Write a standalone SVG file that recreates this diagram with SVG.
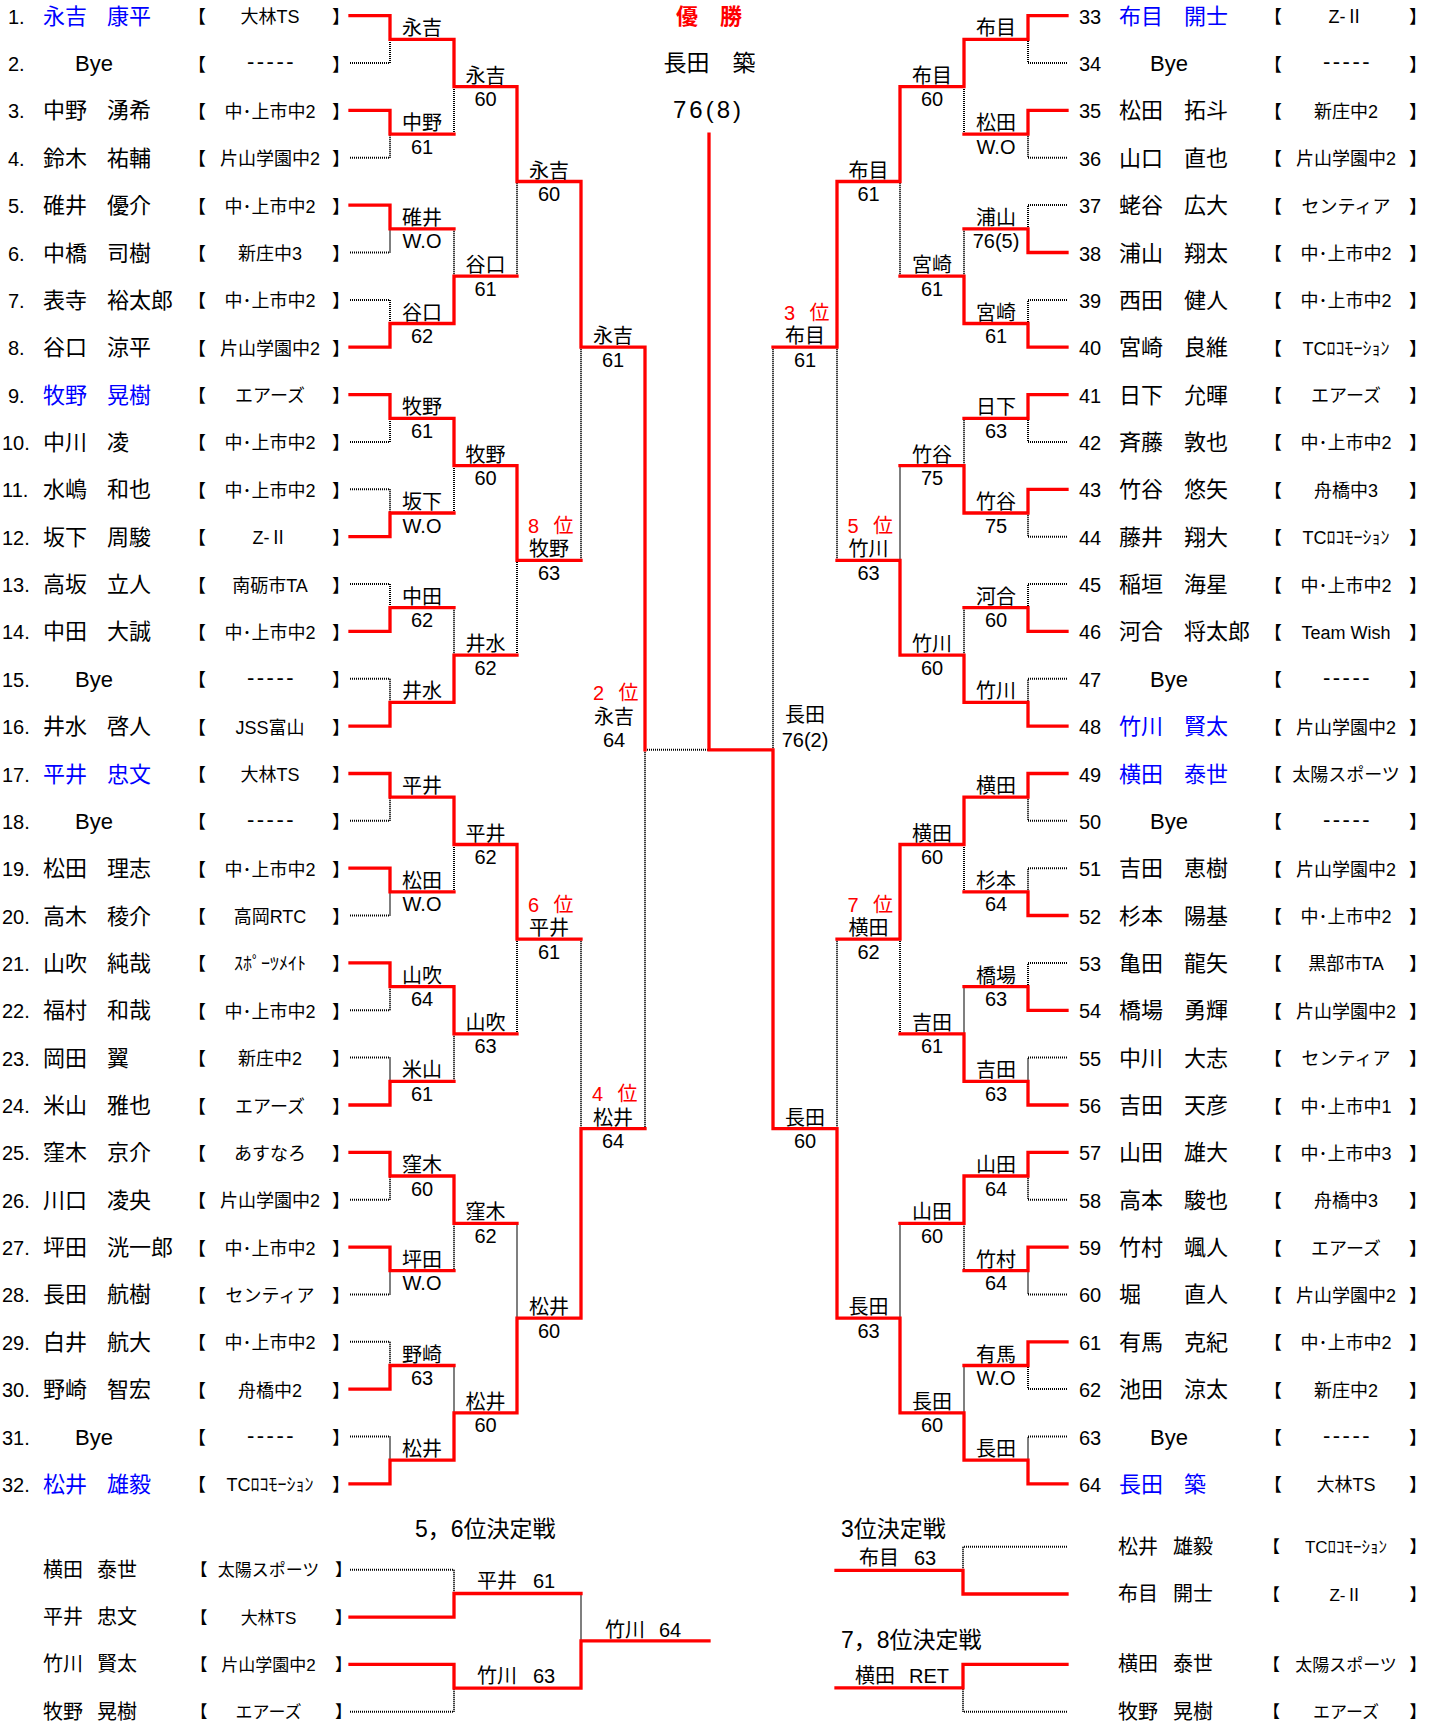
<svg xmlns="http://www.w3.org/2000/svg" xmlns:xlink="http://www.w3.org/1999/xlink" width="1436" height="1721" viewBox="0 0 1436 1721">
<style>
text{font-family:"Liberation Sans","Noto Sans CJK JP",sans-serif;fill:#000}
.n{font-size:20px}
.m{font-size:22px}
.b{fill:#0000ff}
.k{font-size:18px}
.a{font-size:18px;text-anchor:middle}
.dash{font-size:22px;text-anchor:middle;letter-spacing:2.5px}
.l{font-size:20px;text-anchor:middle}
.red{fill:#ff0000}
.r{stroke:#ff0000;stroke-width:3.3;fill:none;stroke-linecap:square}
.d{stroke:#000;stroke-width:2;fill:none;stroke-dasharray:1 1}
.s{font-size:20px}
.sa{font-size:17px;text-anchor:middle}
.sk{font-size:17px}
.h{font-size:23px}
</style>
<defs>
<text id="bkL" class="k" y="7.5"><tspan x="188">【</tspan><tspan x="332">】</tspan></text>
<text id="bkR" class="k" y="7.5"><tspan x="1264">【</tspan><tspan x="1409">】</tspan></text>
<text id="bkBL" class="sk" y="6.5"><tspan x="190.5">【</tspan><tspan x="335">】</tspan></text>
<text id="bkBR" class="sk" y="6.5"><tspan x="1263">【</tspan><tspan x="1409.5">】</tspan></text>
</defs>
<rect width="1436" height="1721" fill="#fff"/>

<g id="connectors">
<path class="d" d="M350 63.1H390V39.4M350 157.8H390V134.1M350 252.5H390V228.8M350 299.9H390V323.5M350 441.9H390V418.3M350 489.3H390V513M350 584H390V607.7M350 678.7H390V702.4M350 820.8H390V797.1M350 915.5H390V891.9M350 1010.3H390V986.6M350 1057.6H390V1081.3M350 1199.7H390V1176M350 1294.4H390V1270.7M350 1341.8H390V1365.5M350 1436.5H390V1460.2
M454 134.1V86.7M454 228.8V276.2M454 513V465.6M454 607.7V655.1M454 891.9V844.5M454 1081.3V1033.9M454 1270.7V1223.4M454 1365.5V1412.8
M517 276.2V181.5M517 655.1V560.3M517 1033.9V939.2M517 1223.4V1318.1
M581 560.3V347.2M581 939.2V1128.7M645 1128.7V749.8M645 749.8H709"/>
<path class="d" d="M1067 63.1H1028V39.4M1067 157.8H1028V134.1M1067 205.1H1028V228.8M1067 299.9H1028V323.5M1067 441.9H1028V418.3M1067 536.7H1028V513M1067 584H1028V607.7M1067 678.7H1028V702.4M1067 820.8H1028V797.1M1067 868.2H1028V891.9M1067 962.9H1028V986.6M1067 1057.6H1028V1081.3M1067 1199.7H1028V1176M1067 1294.4H1028V1270.7M1067 1389.1H1028V1365.5M1067 1436.5H1028V1460.2
M964 134.1V86.7M964 228.8V276.2M964 418.3V465.6M964 607.7V655.1M964 891.9V844.5M964 986.6V1033.9M964 1270.7V1223.4M964 1365.5V1412.8
M900 276.2V181.5M900 465.6V560.3M900 1033.9V939.2M900 1223.4V1318.1
M837 560.3V347.2M837 939.2V1128.7M773 347.2V749.8"/>
<path class="r" d="M350 15.7H390V39.4H454V86.7H517V181.5H581V347.2H645V749.8
M350 110.4H390V134.1H454
M350 205.1H390V228.8H454
M350 347.2H390V323.5H454V276.2H517
M350 394.6H390V418.3H454V465.6H517V560.3H581
M350 536.7H390V513H454
M350 631.4H390V607.7H454
M350 726.1H390V702.4H454V655.1H517
M350 773.5H390V797.1H454V844.5H517V939.2H581
M350 868.2H390V891.9H454
M350 962.9H390V986.6H454V1033.9H517
M350 1105H390V1081.3H454
M350 1152.3H390V1176H454V1223.4H517
M350 1247.1H390V1270.7H454
M350 1389.1H390V1365.5H454
M350 1483.9H390V1460.2H454V1412.8H517V1318.1H581V1128.7H645"/>
<path class="r" d="M1067 15.7H1028V39.4H964V86.7H900V181.5H837V347.2H773
M1067 110.4H1028V134.1H964
M1067 252.5H1028V228.8H964
M1067 347.2H1028V323.5H964V276.2H900
M1067 394.6H1028V418.3H964
M1067 489.3H1028V513H964V465.6H900
M1067 631.4H1028V607.7H964
M1067 726.1H1028V702.4H964V655.1H900V560.3H837
M1067 773.5H1028V797.1H964V844.5H900V939.2H837
M1067 915.5H1028V891.9H964
M1067 1010.3H1028V986.6H964
M1067 1105H1028V1081.3H964V1033.9H900
M1067 1152.3H1028V1176H964V1223.4H900
M1067 1247.1H1028V1270.7H964
M1067 1341.8H1028V1365.5H964
M1067 1483.9H1028V1460.2H964V1412.8H900V1318.1H837V1128.7H773V749.8H709
M709 134.1V749.8"/>
<path class="d" d="M350 1569.8H454V1593.5M350 1711.8H454V1688.1M581 1593.5V1640.8M1067 1546.7H963V1570.3M1067 1711.7H963V1687.8"/>
<path class="r" d="M350 1617.1H454V1593.5H581M350 1664.4H454V1688.1H581V1640.8H709M1067 1594H963V1570.3H836M1067 1664.3H963V1687.8H836"/>
</g>

<g id="champion">
<text class="red" x="709" y="24" style="font-size:22px;font-weight:bold;text-anchor:middle">優　勝</text>
<text x="709.5" y="71" style="font-size:23px;text-anchor:middle">長田　築</text>
<text x="673" y="118" style="font-size:24px;letter-spacing:3px">76(8)</text>
</g>

<g id="left-players">
<g id="p1" transform="translate(0,15.7)"><text y="8"><tspan class="n" x="8">1.</tspan><tspan class="m b" x="43">永吉</tspan><tspan class="m b" x="107">康平</tspan></text><use xlink:href="#bkL"/><text class="a" x="270" y="7.5">大林TS</text></g>
<g id="p2" transform="translate(0,63.1)"><text y="8"><tspan class="n" x="8">2.</tspan><tspan class="m" x="75">Bye</tspan></text><use xlink:href="#bkL"/><text class="dash" x="271.5" y="6">-----</text></g>
<g id="p3" transform="translate(0,110.4)"><text y="8"><tspan class="n" x="8">3.</tspan><tspan class="m" x="43">中野</tspan><tspan class="m" x="107">湧希</tspan></text><use xlink:href="#bkL"/><text class="a" x="270" y="7.5">中･上市中2</text></g>
<g id="p4" transform="translate(0,157.8)"><text y="8"><tspan class="n" x="8">4.</tspan><tspan class="m" x="43">鈴木</tspan><tspan class="m" x="107">祐輔</tspan></text><use xlink:href="#bkL"/><text class="a" x="270" y="7.5">片山学園中2</text></g>
<g id="p5" transform="translate(0,205.1)"><text y="8"><tspan class="n" x="8">5.</tspan><tspan class="m" x="43">碓井</tspan><tspan class="m" x="107">優介</tspan></text><use xlink:href="#bkL"/><text class="a" x="270" y="7.5">中･上市中2</text></g>
<g id="p6" transform="translate(0,252.5)"><text y="8"><tspan class="n" x="8">6.</tspan><tspan class="m" x="43">中橋</tspan><tspan class="m" x="107">司樹</tspan></text><use xlink:href="#bkL"/><text class="a" x="270" y="7.5">新庄中3</text></g>
<g id="p7" transform="translate(0,299.9)"><text y="8"><tspan class="n" x="8">7.</tspan><tspan class="m" x="43">表寺</tspan><tspan class="m" x="107">裕太郎</tspan></text><use xlink:href="#bkL"/><text class="a" x="270" y="7.5">中･上市中2</text></g>
<g id="p8" transform="translate(0,347.2)"><text y="8"><tspan class="n" x="8">8.</tspan><tspan class="m" x="43">谷口</tspan><tspan class="m" x="107">涼平</tspan></text><use xlink:href="#bkL"/><text class="a" x="270" y="7.5">片山学園中2</text></g>
<g id="p9" transform="translate(0,394.6)"><text y="8"><tspan class="n" x="8">9.</tspan><tspan class="m b" x="43">牧野</tspan><tspan class="m b" x="107">晃樹</tspan></text><use xlink:href="#bkL"/><text class="a" x="270" y="7.5">エアーズ</text></g>
<g id="p10" transform="translate(0,441.9)"><text y="8"><tspan class="n" x="2">10.</tspan><tspan class="m" x="43">中川</tspan><tspan class="m" x="107">凌</tspan></text><use xlink:href="#bkL"/><text class="a" x="270" y="7.5">中･上市中2</text></g>
<g id="p11" transform="translate(0,489.3)"><text y="8"><tspan class="n" x="2">11.</tspan><tspan class="m" x="43">水嶋</tspan><tspan class="m" x="107">和也</tspan></text><use xlink:href="#bkL"/><text class="a" x="270" y="7.5">中･上市中2</text></g>
<g id="p12" transform="translate(0,536.7)"><text y="8"><tspan class="n" x="2">12.</tspan><tspan class="m" x="43">坂下</tspan><tspan class="m" x="107">周駿</tspan></text><use xlink:href="#bkL"/><text class="a" x="270" y="7.5">Z-Ⅱ</text></g>
<g id="p13" transform="translate(0,584)"><text y="8"><tspan class="n" x="2">13.</tspan><tspan class="m" x="43">高坂</tspan><tspan class="m" x="107">立人</tspan></text><use xlink:href="#bkL"/><text class="a" x="270" y="7.5">南砺市TA</text></g>
<g id="p14" transform="translate(0,631.4)"><text y="8"><tspan class="n" x="2">14.</tspan><tspan class="m" x="43">中田</tspan><tspan class="m" x="107">大誠</tspan></text><use xlink:href="#bkL"/><text class="a" x="270" y="7.5">中･上市中2</text></g>
<g id="p15" transform="translate(0,678.7)"><text y="8"><tspan class="n" x="2">15.</tspan><tspan class="m" x="75">Bye</tspan></text><use xlink:href="#bkL"/><text class="dash" x="271.5" y="6">-----</text></g>
<g id="p16" transform="translate(0,726.1)"><text y="8"><tspan class="n" x="2">16.</tspan><tspan class="m" x="43">井水</tspan><tspan class="m" x="107">啓人</tspan></text><use xlink:href="#bkL"/><text class="a" x="270" y="7.5">JSS富山</text></g>
<g id="p17" transform="translate(0,773.5)"><text y="8"><tspan class="n" x="2">17.</tspan><tspan class="m b" x="43">平井</tspan><tspan class="m b" x="107">忠文</tspan></text><use xlink:href="#bkL"/><text class="a" x="270" y="7.5">大林TS</text></g>
<g id="p18" transform="translate(0,820.8)"><text y="8"><tspan class="n" x="2">18.</tspan><tspan class="m" x="75">Bye</tspan></text><use xlink:href="#bkL"/><text class="dash" x="271.5" y="6">-----</text></g>
<g id="p19" transform="translate(0,868.2)"><text y="8"><tspan class="n" x="2">19.</tspan><tspan class="m" x="43">松田</tspan><tspan class="m" x="107">理志</tspan></text><use xlink:href="#bkL"/><text class="a" x="270" y="7.5">中･上市中2</text></g>
<g id="p20" transform="translate(0,915.5)"><text y="8"><tspan class="n" x="2">20.</tspan><tspan class="m" x="43">高木</tspan><tspan class="m" x="107">稜介</tspan></text><use xlink:href="#bkL"/><text class="a" x="270" y="7.5">高岡RTC</text></g>
<g id="p21" transform="translate(0,962.9)"><text y="8"><tspan class="n" x="2">21.</tspan><tspan class="m" x="43">山吹</tspan><tspan class="m" x="107">純哉</tspan></text><use xlink:href="#bkL"/><text class="a" x="270" y="7.5">ｽﾎﾟｰﾂﾒｲﾄ</text></g>
<g id="p22" transform="translate(0,1010.3)"><text y="8"><tspan class="n" x="2">22.</tspan><tspan class="m" x="43">福村</tspan><tspan class="m" x="107">和哉</tspan></text><use xlink:href="#bkL"/><text class="a" x="270" y="7.5">中･上市中2</text></g>
<g id="p23" transform="translate(0,1057.6)"><text y="8"><tspan class="n" x="2">23.</tspan><tspan class="m" x="43">岡田</tspan><tspan class="m" x="107">翼</tspan></text><use xlink:href="#bkL"/><text class="a" x="270" y="7.5">新庄中2</text></g>
<g id="p24" transform="translate(0,1105)"><text y="8"><tspan class="n" x="2">24.</tspan><tspan class="m" x="43">米山</tspan><tspan class="m" x="107">雅也</tspan></text><use xlink:href="#bkL"/><text class="a" x="270" y="7.5">エアーズ</text></g>
<g id="p25" transform="translate(0,1152.3)"><text y="8"><tspan class="n" x="2">25.</tspan><tspan class="m" x="43">窪木</tspan><tspan class="m" x="107">京介</tspan></text><use xlink:href="#bkL"/><text class="a" x="270" y="7.5">あすなろ</text></g>
<g id="p26" transform="translate(0,1199.7)"><text y="8"><tspan class="n" x="2">26.</tspan><tspan class="m" x="43">川口</tspan><tspan class="m" x="107">凌央</tspan></text><use xlink:href="#bkL"/><text class="a" x="270" y="7.5">片山学園中2</text></g>
<g id="p27" transform="translate(0,1247.1)"><text y="8"><tspan class="n" x="2">27.</tspan><tspan class="m" x="43">坪田</tspan><tspan class="m" x="107">洸一郎</tspan></text><use xlink:href="#bkL"/><text class="a" x="270" y="7.5">中･上市中2</text></g>
<g id="p28" transform="translate(0,1294.4)"><text y="8"><tspan class="n" x="2">28.</tspan><tspan class="m" x="43">長田</tspan><tspan class="m" x="107">航樹</tspan></text><use xlink:href="#bkL"/><text class="a" x="270" y="7.5">センティア</text></g>
<g id="p29" transform="translate(0,1341.8)"><text y="8"><tspan class="n" x="2">29.</tspan><tspan class="m" x="43">白井</tspan><tspan class="m" x="107">航大</tspan></text><use xlink:href="#bkL"/><text class="a" x="270" y="7.5">中･上市中2</text></g>
<g id="p30" transform="translate(0,1389.1)"><text y="8"><tspan class="n" x="2">30.</tspan><tspan class="m" x="43">野崎</tspan><tspan class="m" x="107">智宏</tspan></text><use xlink:href="#bkL"/><text class="a" x="270" y="7.5">舟橋中2</text></g>
<g id="p31" transform="translate(0,1436.5)"><text y="8"><tspan class="n" x="2">31.</tspan><tspan class="m" x="75">Bye</tspan></text><use xlink:href="#bkL"/><text class="dash" x="271.5" y="6">-----</text></g>
<g id="p32" transform="translate(0,1483.9)"><text y="8"><tspan class="n" x="2">32.</tspan><tspan class="m b" x="43">松井</tspan><tspan class="m b" x="107">雄毅</tspan></text><use xlink:href="#bkL"/><text class="a" x="270" y="7.5">TCﾛｺﾓｰｼｮﾝ</text></g>
</g>

<g id="right-players">
<g id="p33" transform="translate(0,15.7)"><text y="8"><tspan class="n" x="1079">33</tspan><tspan class="m b" x="1119">布目</tspan><tspan class="m b" x="1184">開士</tspan></text><use xlink:href="#bkR"/><text class="a" x="1346" y="7.5">Z-Ⅱ</text></g>
<g id="p34" transform="translate(0,63.1)"><text y="8"><tspan class="n" x="1079">34</tspan><tspan class="m" x="1150">Bye</tspan></text><use xlink:href="#bkR"/><text class="dash" x="1347.5" y="6">-----</text></g>
<g id="p35" transform="translate(0,110.4)"><text y="8"><tspan class="n" x="1079">35</tspan><tspan class="m" x="1119">松田</tspan><tspan class="m" x="1184">拓斗</tspan></text><use xlink:href="#bkR"/><text class="a" x="1346" y="7.5">新庄中2</text></g>
<g id="p36" transform="translate(0,157.8)"><text y="8"><tspan class="n" x="1079">36</tspan><tspan class="m" x="1119">山口</tspan><tspan class="m" x="1184">直也</tspan></text><use xlink:href="#bkR"/><text class="a" x="1346" y="7.5">片山学園中2</text></g>
<g id="p37" transform="translate(0,205.1)"><text y="8"><tspan class="n" x="1079">37</tspan><tspan class="m" x="1119">蛯谷</tspan><tspan class="m" x="1184">広大</tspan></text><use xlink:href="#bkR"/><text class="a" x="1346" y="7.5">センティア</text></g>
<g id="p38" transform="translate(0,252.5)"><text y="8"><tspan class="n" x="1079">38</tspan><tspan class="m" x="1119">浦山</tspan><tspan class="m" x="1184">翔太</tspan></text><use xlink:href="#bkR"/><text class="a" x="1346" y="7.5">中･上市中2</text></g>
<g id="p39" transform="translate(0,299.9)"><text y="8"><tspan class="n" x="1079">39</tspan><tspan class="m" x="1119">西田</tspan><tspan class="m" x="1184">健人</tspan></text><use xlink:href="#bkR"/><text class="a" x="1346" y="7.5">中･上市中2</text></g>
<g id="p40" transform="translate(0,347.2)"><text y="8"><tspan class="n" x="1079">40</tspan><tspan class="m" x="1119">宮崎</tspan><tspan class="m" x="1184">良維</tspan></text><use xlink:href="#bkR"/><text class="a" x="1346" y="7.5">TCﾛｺﾓｰｼｮﾝ</text></g>
<g id="p41" transform="translate(0,394.6)"><text y="8"><tspan class="n" x="1079">41</tspan><tspan class="m" x="1119">日下</tspan><tspan class="m" x="1184">允暉</tspan></text><use xlink:href="#bkR"/><text class="a" x="1346" y="7.5">エアーズ</text></g>
<g id="p42" transform="translate(0,441.9)"><text y="8"><tspan class="n" x="1079">42</tspan><tspan class="m" x="1119">斉藤</tspan><tspan class="m" x="1184">敦也</tspan></text><use xlink:href="#bkR"/><text class="a" x="1346" y="7.5">中･上市中2</text></g>
<g id="p43" transform="translate(0,489.3)"><text y="8"><tspan class="n" x="1079">43</tspan><tspan class="m" x="1119">竹谷</tspan><tspan class="m" x="1184">悠矢</tspan></text><use xlink:href="#bkR"/><text class="a" x="1346" y="7.5">舟橋中3</text></g>
<g id="p44" transform="translate(0,536.7)"><text y="8"><tspan class="n" x="1079">44</tspan><tspan class="m" x="1119">藤井</tspan><tspan class="m" x="1184">翔大</tspan></text><use xlink:href="#bkR"/><text class="a" x="1346" y="7.5">TCﾛｺﾓｰｼｮﾝ</text></g>
<g id="p45" transform="translate(0,584)"><text y="8"><tspan class="n" x="1079">45</tspan><tspan class="m" x="1119">稲垣</tspan><tspan class="m" x="1184">海星</tspan></text><use xlink:href="#bkR"/><text class="a" x="1346" y="7.5">中･上市中2</text></g>
<g id="p46" transform="translate(0,631.4)"><text y="8"><tspan class="n" x="1079">46</tspan><tspan class="m" x="1119">河合</tspan><tspan class="m" x="1184">将太郎</tspan></text><use xlink:href="#bkR"/><text class="a" x="1346" y="7.5">Team Wish</text></g>
<g id="p47" transform="translate(0,678.7)"><text y="8"><tspan class="n" x="1079">47</tspan><tspan class="m" x="1150">Bye</tspan></text><use xlink:href="#bkR"/><text class="dash" x="1347.5" y="6">-----</text></g>
<g id="p48" transform="translate(0,726.1)"><text y="8"><tspan class="n" x="1079">48</tspan><tspan class="m b" x="1119">竹川</tspan><tspan class="m b" x="1184">賢太</tspan></text><use xlink:href="#bkR"/><text class="a" x="1346" y="7.5">片山学園中2</text></g>
<g id="p49" transform="translate(0,773.5)"><text y="8"><tspan class="n" x="1079">49</tspan><tspan class="m b" x="1119">横田</tspan><tspan class="m b" x="1184">泰世</tspan></text><use xlink:href="#bkR"/><text class="a" x="1346" y="7.5">太陽スポーツ</text></g>
<g id="p50" transform="translate(0,820.8)"><text y="8"><tspan class="n" x="1079">50</tspan><tspan class="m" x="1150">Bye</tspan></text><use xlink:href="#bkR"/><text class="dash" x="1347.5" y="6">-----</text></g>
<g id="p51" transform="translate(0,868.2)"><text y="8"><tspan class="n" x="1079">51</tspan><tspan class="m" x="1119">吉田</tspan><tspan class="m" x="1184">恵樹</tspan></text><use xlink:href="#bkR"/><text class="a" x="1346" y="7.5">片山学園中2</text></g>
<g id="p52" transform="translate(0,915.5)"><text y="8"><tspan class="n" x="1079">52</tspan><tspan class="m" x="1119">杉本</tspan><tspan class="m" x="1184">陽基</tspan></text><use xlink:href="#bkR"/><text class="a" x="1346" y="7.5">中･上市中2</text></g>
<g id="p53" transform="translate(0,962.9)"><text y="8"><tspan class="n" x="1079">53</tspan><tspan class="m" x="1119">亀田</tspan><tspan class="m" x="1184">龍矢</tspan></text><use xlink:href="#bkR"/><text class="a" x="1346" y="7.5">黒部市TA</text></g>
<g id="p54" transform="translate(0,1010.3)"><text y="8"><tspan class="n" x="1079">54</tspan><tspan class="m" x="1119">橋場</tspan><tspan class="m" x="1184">勇輝</tspan></text><use xlink:href="#bkR"/><text class="a" x="1346" y="7.5">片山学園中2</text></g>
<g id="p55" transform="translate(0,1057.6)"><text y="8"><tspan class="n" x="1079">55</tspan><tspan class="m" x="1119">中川</tspan><tspan class="m" x="1184">大志</tspan></text><use xlink:href="#bkR"/><text class="a" x="1346" y="7.5">センティア</text></g>
<g id="p56" transform="translate(0,1105)"><text y="8"><tspan class="n" x="1079">56</tspan><tspan class="m" x="1119">吉田</tspan><tspan class="m" x="1184">天彦</tspan></text><use xlink:href="#bkR"/><text class="a" x="1346" y="7.5">中･上市中1</text></g>
<g id="p57" transform="translate(0,1152.3)"><text y="8"><tspan class="n" x="1079">57</tspan><tspan class="m" x="1119">山田</tspan><tspan class="m" x="1184">雄大</tspan></text><use xlink:href="#bkR"/><text class="a" x="1346" y="7.5">中･上市中3</text></g>
<g id="p58" transform="translate(0,1199.7)"><text y="8"><tspan class="n" x="1079">58</tspan><tspan class="m" x="1119">高本</tspan><tspan class="m" x="1184">駿也</tspan></text><use xlink:href="#bkR"/><text class="a" x="1346" y="7.5">舟橋中3</text></g>
<g id="p59" transform="translate(0,1247.1)"><text y="8"><tspan class="n" x="1079">59</tspan><tspan class="m" x="1119">竹村</tspan><tspan class="m" x="1184">颯人</tspan></text><use xlink:href="#bkR"/><text class="a" x="1346" y="7.5">エアーズ</text></g>
<g id="p60" transform="translate(0,1294.4)"><text y="8"><tspan class="n" x="1079">60</tspan><tspan class="m" x="1119">堀</tspan><tspan class="m" x="1184">直人</tspan></text><use xlink:href="#bkR"/><text class="a" x="1346" y="7.5">片山学園中2</text></g>
<g id="p61" transform="translate(0,1341.8)"><text y="8"><tspan class="n" x="1079">61</tspan><tspan class="m" x="1119">有馬</tspan><tspan class="m" x="1184">克紀</tspan></text><use xlink:href="#bkR"/><text class="a" x="1346" y="7.5">中･上市中2</text></g>
<g id="p62" transform="translate(0,1389.1)"><text y="8"><tspan class="n" x="1079">62</tspan><tspan class="m" x="1119">池田</tspan><tspan class="m" x="1184">涼太</tspan></text><use xlink:href="#bkR"/><text class="a" x="1346" y="7.5">新庄中2</text></g>
<g id="p63" transform="translate(0,1436.5)"><text y="8"><tspan class="n" x="1079">63</tspan><tspan class="m" x="1150">Bye</tspan></text><use xlink:href="#bkR"/><text class="dash" x="1347.5" y="6">-----</text></g>
<g id="p64" transform="translate(0,1483.9)"><text y="8"><tspan class="n" x="1079">64</tspan><tspan class="m b" x="1119">長田</tspan><tspan class="m b" x="1184">築</tspan></text><use xlink:href="#bkR"/><text class="a" x="1346" y="7.5">大林TS</text></g>
</g>

<g id="left-results">
<g transform="translate(422,39.4)"><text class="l" y="-4">永吉</text></g>
<g transform="translate(422,134.1)"><text class="l" y="-4">中野</text><text class="l" y="19.5">61</text></g>
<g transform="translate(422,228.8)"><text class="l" y="-4">碓井</text><text class="l" y="19.5">W.O</text></g>
<g transform="translate(422,323.5)"><text class="l" y="-4">谷口</text><text class="l" y="19.5">62</text></g>
<g transform="translate(422,418.3)"><text class="l" y="-4">牧野</text><text class="l" y="19.5">61</text></g>
<g transform="translate(422,513)"><text class="l" y="-4">坂下</text><text class="l" y="19.5">W.O</text></g>
<g transform="translate(422,607.7)"><text class="l" y="-4">中田</text><text class="l" y="19.5">62</text></g>
<g transform="translate(422,702.4)"><text class="l" y="-4">井水</text></g>
<g transform="translate(422,797.1)"><text class="l" y="-4">平井</text></g>
<g transform="translate(422,891.9)"><text class="l" y="-4">松田</text><text class="l" y="19.5">W.O</text></g>
<g transform="translate(422,986.6)"><text class="l" y="-4">山吹</text><text class="l" y="19.5">64</text></g>
<g transform="translate(422,1081.3)"><text class="l" y="-4">米山</text><text class="l" y="19.5">61</text></g>
<g transform="translate(422,1176)"><text class="l" y="-4">窪木</text><text class="l" y="19.5">60</text></g>
<g transform="translate(422,1270.7)"><text class="l" y="-4">坪田</text><text class="l" y="19.5">W.O</text></g>
<g transform="translate(422,1365.5)"><text class="l" y="-4">野崎</text><text class="l" y="19.5">63</text></g>
<g transform="translate(422,1460.2)"><text class="l" y="-4">松井</text></g>
<g transform="translate(485.5,86.7)"><text class="l" y="-4">永吉</text><text class="l" y="19.5">60</text></g>
<g transform="translate(485.5,276.2)"><text class="l" y="-4">谷口</text><text class="l" y="19.5">61</text></g>
<g transform="translate(485.5,465.6)"><text class="l" y="-4">牧野</text><text class="l" y="19.5">60</text></g>
<g transform="translate(485.5,655.1)"><text class="l" y="-4">井水</text><text class="l" y="19.5">62</text></g>
<g transform="translate(485.5,844.5)"><text class="l" y="-4">平井</text><text class="l" y="19.5">62</text></g>
<g transform="translate(485.5,1033.9)"><text class="l" y="-4">山吹</text><text class="l" y="19.5">63</text></g>
<g transform="translate(485.5,1223.4)"><text class="l" y="-4">窪木</text><text class="l" y="19.5">62</text></g>
<g transform="translate(485.5,1412.8)"><text class="l" y="-4">松井</text><text class="l" y="19.5">60</text></g>
<g transform="translate(549,181.5)"><text class="l" y="-4">永吉</text><text class="l" y="19.5">60</text></g>
<g transform="translate(549,560.3)"><text class="l red" y="-27.5"><tspan x="-15.5">8</tspan><tspan x="14.5">位</tspan></text><text class="l" y="-4">牧野</text><text class="l" y="19.5">63</text></g>
<g transform="translate(549,939.2)"><text class="l red" y="-27.5"><tspan x="-15.5">6</tspan><tspan x="14.5">位</tspan></text><text class="l" y="-4">平井</text><text class="l" y="19.5">61</text></g>
<g transform="translate(549,1318.1)"><text class="l" y="-4">松井</text><text class="l" y="19.5">60</text></g>
<g transform="translate(613,347.2)"><text class="l" y="-4">永吉</text><text class="l" y="19.5">61</text></g>
<g transform="translate(613,1128.7)"><text class="l red" y="-27.5"><tspan x="-15.5">4</tspan><tspan x="14.5">位</tspan></text><text class="l" y="-4">松井</text><text class="l" y="19.5">64</text></g>
<g transform="translate(614,749.8)"><text class="l red" y="-50"><tspan x="-15.5">2</tspan><tspan x="14.5">位</tspan></text><text class="l" y="-26">永吉</text><text class="l" y="-3">64</text></g>
</g>

<g id="right-results">
<g transform="translate(996,39.4)"><text class="l" y="-4">布目</text></g>
<g transform="translate(996,134.1)"><text class="l" y="-4">松田</text><text class="l" y="19.5">W.O</text></g>
<g transform="translate(996,228.8)"><text class="l" y="-4">浦山</text><text class="l" y="19.5">76(5)</text></g>
<g transform="translate(996,323.5)"><text class="l" y="-4">宮崎</text><text class="l" y="19.5">61</text></g>
<g transform="translate(996,418.3)"><text class="l" y="-4">日下</text><text class="l" y="19.5">63</text></g>
<g transform="translate(996,513)"><text class="l" y="-4">竹谷</text><text class="l" y="19.5">75</text></g>
<g transform="translate(996,607.7)"><text class="l" y="-4">河合</text><text class="l" y="19.5">60</text></g>
<g transform="translate(996,702.4)"><text class="l" y="-4">竹川</text></g>
<g transform="translate(996,797.1)"><text class="l" y="-4">横田</text></g>
<g transform="translate(996,891.9)"><text class="l" y="-4">杉本</text><text class="l" y="19.5">64</text></g>
<g transform="translate(996,986.6)"><text class="l" y="-4">橋場</text><text class="l" y="19.5">63</text></g>
<g transform="translate(996,1081.3)"><text class="l" y="-4">吉田</text><text class="l" y="19.5">63</text></g>
<g transform="translate(996,1176)"><text class="l" y="-4">山田</text><text class="l" y="19.5">64</text></g>
<g transform="translate(996,1270.7)"><text class="l" y="-4">竹村</text><text class="l" y="19.5">64</text></g>
<g transform="translate(996,1365.5)"><text class="l" y="-4">有馬</text><text class="l" y="19.5">W.O</text></g>
<g transform="translate(996,1460.2)"><text class="l" y="-4">長田</text></g>
<g transform="translate(932,86.7)"><text class="l" y="-4">布目</text><text class="l" y="19.5">60</text></g>
<g transform="translate(932,276.2)"><text class="l" y="-4">宮崎</text><text class="l" y="19.5">61</text></g>
<g transform="translate(932,465.6)"><text class="l" y="-4">竹谷</text><text class="l" y="19.5">75</text></g>
<g transform="translate(932,655.1)"><text class="l" y="-4">竹川</text><text class="l" y="19.5">60</text></g>
<g transform="translate(932,844.5)"><text class="l" y="-4">横田</text><text class="l" y="19.5">60</text></g>
<g transform="translate(932,1033.9)"><text class="l" y="-4">吉田</text><text class="l" y="19.5">61</text></g>
<g transform="translate(932,1223.4)"><text class="l" y="-4">山田</text><text class="l" y="19.5">60</text></g>
<g transform="translate(932,1412.8)"><text class="l" y="-4">長田</text><text class="l" y="19.5">60</text></g>
<g transform="translate(868.5,181.5)"><text class="l" y="-4">布目</text><text class="l" y="19.5">61</text></g>
<g transform="translate(868.5,560.3)"><text class="l red" y="-27.5"><tspan x="-15.5">5</tspan><tspan x="14.5">位</tspan></text><text class="l" y="-4">竹川</text><text class="l" y="19.5">63</text></g>
<g transform="translate(868.5,939.2)"><text class="l red" y="-27.5"><tspan x="-15.5">7</tspan><tspan x="14.5">位</tspan></text><text class="l" y="-4">横田</text><text class="l" y="19.5">62</text></g>
<g transform="translate(868.5,1318.1)"><text class="l" y="-4">長田</text><text class="l" y="19.5">63</text></g>
<g transform="translate(805,347.2)"><text class="l red" y="-27.5"><tspan x="-15.5">3</tspan><tspan x="14.5">位</tspan></text><text class="l" y="-4">布目</text><text class="l" y="19.5">61</text></g>
<g transform="translate(805,1128.7)"><text class="l" y="-4">長田</text><text class="l" y="19.5">60</text></g>
<g transform="translate(805,749.8)"><text class="l" y="-28">長田</text><text class="l" y="-3">76(2)</text></g>
</g>

<g id="playoff-56">
<text class="h" x="415" y="1537">5，6位決定戦</text>
<g transform="translate(0,1569.8)"><text class="s" y="7"><tspan x="43">横田</tspan><tspan x="97">泰世</tspan></text><use xlink:href="#bkBL"/><text class="sa" x="268.5" y="6.5">太陽スポーツ</text></g>
<g transform="translate(0,1617.1)"><text class="s" y="7"><tspan x="43">平井</tspan><tspan x="97">忠文</tspan></text><use xlink:href="#bkBL"/><text class="sa" x="268.5" y="6.5">大林TS</text></g>
<g transform="translate(0,1664.4)"><text class="s" y="7"><tspan x="43">竹川</tspan><tspan x="97">賢太</tspan></text><use xlink:href="#bkBL"/><text class="sa" x="268.5" y="6.5">片山学園中2</text></g>
<g transform="translate(0,1711.8)"><text class="s" y="7"><tspan x="43">牧野</tspan><tspan x="97">晃樹</tspan></text><use xlink:href="#bkBL"/><text class="sa" x="268.5" y="6.5">エアーズ</text></g>
<text class="s" y="1588"><tspan x="477">平井</tspan><tspan x="533">61</tspan></text>
<text class="s" y="1683"><tspan x="477">竹川</tspan><tspan x="533">63</tspan></text>
<text class="s" y="1637"><tspan x="605">竹川</tspan><tspan x="659">64</tspan></text>
</g>

<g id="playoff-3">
<text class="h" x="841" y="1537">3位決定戦</text>
<text class="s" y="1565"><tspan x="859">布目</tspan><tspan x="914">63</tspan></text>
<g transform="translate(0,1546.7)"><text class="s" y="7"><tspan x="1118">松井</tspan><tspan x="1173">雄毅</tspan></text><use xlink:href="#bkBR"/><text class="sa" x="1346" y="6.5">TCﾛｺﾓｰｼｮﾝ</text></g>
<g transform="translate(0,1594)"><text class="s" y="7"><tspan x="1118">布目</tspan><tspan x="1173">開士</tspan></text><use xlink:href="#bkBR"/><text class="sa" x="1346" y="6.5">Z-Ⅱ</text></g>
</g>

<g id="playoff-78">
<text class="h" x="841" y="1648">7，8位決定戦</text>
<text class="s" y="1683"><tspan x="855">横田</tspan><tspan x="909">RET</tspan></text>
<g transform="translate(0,1664.3)"><text class="s" y="7"><tspan x="1118">横田</tspan><tspan x="1173">泰世</tspan></text><use xlink:href="#bkBR"/><text class="sa" x="1346" y="6.5">太陽スポーツ</text></g>
<g transform="translate(0,1711.7)"><text class="s" y="7"><tspan x="1118">牧野</tspan><tspan x="1173">晃樹</tspan></text><use xlink:href="#bkBR"/><text class="sa" x="1346" y="6.5">エアーズ</text></g>
</g>
</svg>
